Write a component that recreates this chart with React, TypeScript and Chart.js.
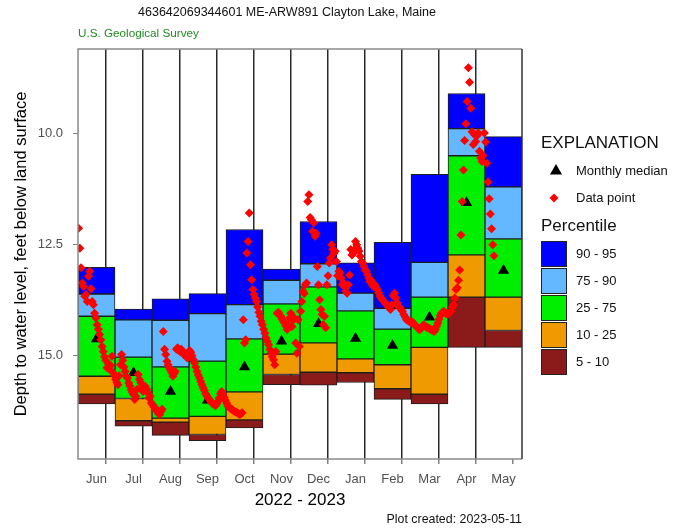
import React, { useEffect, useRef } from 'react';
import { Chart, registerables } from 'chart.js';

Chart.register(...registerables);

const FONT = '"Liberation Sans", Arial, Helvetica, sans-serif';

const TITLE = '463642069344601 ME-ARW891 Clayton Lake, Maine';
const AGENCY = 'U.S. Geological Survey';
const CREATED = 'Plot created: 2023-05-11';
const X_TITLE = '2022 - 2023';
const Y_TITLE = 'Depth to water level, feet below land surface';

const MONTHS = ['Jun', 'Jul', 'Aug', 'Sep', 'Oct', 'Nov', 'Dec', 'Jan', 'Feb', 'Mar', 'Apr', 'May'];
const DAYS_IN_MONTH = [30, 31, 31, 30, 31, 30, 31, 31, 28, 31, 30, 31];
const Y_TICKS = [10, 12.5, 15];

// Monthly percentiles of depth (ft below land surface)
const P95 = [13.01, 13.95, 13.72, 13.6, 12.16, 13.05, 11.98, 12.91, 12.45, 10.92, 9.1, 10.07];
const P90 = [13.61, 14.19, 14.2, 14.05, 13.85, 13.3, 12.93, 13.59, 13.93, 12.9, 9.89, 11.2];
const P75 = [14.11, 15.03, 15.25, 15.12, 14.62, 13.83, 13.45, 13.99, 14.4, 13.68, 10.5, 12.37];
const P25 = [15.46, 15.96, 16.4, 16.36, 15.81, 14.96, 14.71, 15.07, 15.2, 14.81, 12.73, 13.68];
const P10 = [15.86, 16.46, 16.49, 16.77, 16.44, 15.42, 15.37, 15.38, 15.74, 15.86, 13.68, 14.43];
const P5 = [16.08, 16.58, 16.79, 16.91, 16.62, 15.65, 15.66, 15.6, 15.98, 16.08, 14.81, 14.81];
const MEDIAN = [14.62, 15.38, 15.8, 16.0, 15.25, 14.67, 14.28, 14.61, 14.77, 14.13, 11.56, 13.08];

// Daily data points, one value per day starting on day 1 of each month
const JUN_2022 = [12.13, 12.58, 13.02, 13.36, 13.44, 13.66, 13.62, 13.78, 13.21, 13.1, 13.49, 13.78, 13.85, 14.04, 14.15, 14.3, 14.4, 14.52, 14.64, 14.79, 14.9, 15.02, 15.1, 15.27, 15.18, 15.3, 15.22, 15.01, 15.38, 15.45];
const JUL_2022 = [15.53, 15.6, 15.65, 15.45, 15.2, 14.97, 15.1, 15.25, 15.35, 15.46, 15.5, 15.61, 15.68, 15.76, 15.82, 15.87, 15.98, 15.91, 15.75, 15.42, 15.53, 15.6, 15.69, 15.8, 15.72, 15.69, 15.75, 15.83, 15.95, 15.91, 16.06];
const AUG_2022 = [16.1, 16.15, 16.17, 16.22, 16.25, 16.3, 16.32, 16.25, 16.2, 14.45, 14.85, 14.97, 15.12, 15.2, 15.27, 15.32, 15.38, 15.46, 15.4, 15.35, 14.85, 14.82, 14.88, 14.9, 14.85, 14.92, 14.97, 14.95, 15.0, 15.05, 15.02];
const SEP_2022 = [14.88, 14.92, 15.0, 15.08, 15.16, 15.25, 15.35, 15.43, 15.5, 15.58, 15.65, 15.72, 15.78, 15.85, 15.9, 15.95, 15.98, 16.02, 16.06, 16.08, 16.1, 16.12, 16.08, 16.02, 15.95, 15.85, 15.8, 15.86, 15.93, 16.0];
const OCT_2022 = [16.06, 16.13, 16.15, 16.18, 16.2, 16.21, 16.24, 16.25, 16.27, 16.28, 16.3, 16.32, 16.3, 16.28, 14.19, 14.71, 14.64, 12.69, 12.43, 11.79, 12.95, 13.29, 13.51, 13.62, 13.7, 13.78, 13.9, 14.02, 14.11, 14.22, 14.3];
const NOV_2022 = [14.4, 14.49, 14.6, 14.68, 14.75, 14.85, 14.94, 15.02, 15.09, 15.2, 14.9, 14.04, 14.02, 14.08, 14.11, 14.18, 14.22, 14.26, 14.33, 14.41, 14.3, 14.15, 14.04, 14.34, 14.2, 14.15, 14.71, 14.94, 14.19, 14.79];
const DEC_2022 = [14.0, 13.78, 13.55, 13.6, 13.4, 13.36, 11.53, 11.38, 11.89, 11.94, 12.2, 12.01, 12.31, 12.25, 12.99, 13.4, 13.74, 13.96, 14.07, 14.3, 14.11, 14.37, 13.4, 13.2, 12.91, 12.8, 12.5, 12.61, 12.69, 12.65, 12.88];
const JAN_2023 = [13.2, 13.1, 13.14, 13.25, 13.4, 13.36, 13.45, 13.55, 13.59, 13.4, 13.18, 12.61, 12.73, 12.7, 12.61, 12.43, 12.5, 12.58, 12.65, 12.76, 12.88, 12.91, 12.99, 13.06, 13.1, 13.17, 13.25, 13.33, 13.3, 13.4, 13.44];
const FEB_2023 = [13.4, 13.45, 13.51, 13.58, 13.66, 13.7, 13.74, 13.78, 13.81, 13.85, 13.89, 13.92, 13.96, 13.85, 13.65, 13.59, 13.7, 13.81, 13.89, 13.92, 13.96, 14.0, 14.07, 14.12, 14.19, 14.2, 14.22, 14.25];
const MAR_2023 = [14.22, 14.25, 14.28, 14.32, 14.34, 14.37, 14.4, 14.41, 14.38, 14.34, 14.3, 14.32, 14.35, 14.37, 14.37, 14.39, 14.41, 14.42, 14.43, 14.45, 14.4, 14.33, 14.26, 14.18, 14.1, 14.04, 14.02, 14.0, 14.03, 14.05, 14.07];
const APR_2023 = [14.05, 14.02, 14.0, 13.9, 13.85, 13.7, 13.51, 13.47, 13.3, 13.07, 12.28, 11.53, 10.82, 10.16, 9.78, 9.28, 8.52, 8.85, 9.43, 9.96, 10.25, 10.03, 10.18, 10.05, 9.99, 10.4, 10.55, 10.63, 10.5, 9.99];
const MAY_2023 = [10.19, 10.67, 11.09, 11.47, 11.81, 12.14, 12.5, 12.75];

const DAILY = [JUN_2022, JUL_2022, AUG_2022, SEP_2022, OCT_2022, NOV_2022, DEC_2022, JAN_2023, FEB_2023, MAR_2023, APR_2023, MAY_2023];

const BAND_LABELS = ['90 - 95', '75 - 90', '25 - 75', '10 - 25', '5 - 10'];
const BAND_COLORS = ['#0000FF', '#63B8FF', '#00EE00', '#EE9A00', '#8B1A1A'];
const BAND_LOW = [P90, P75, P25, P10, P5];
const BAND_HIGH = [P95, P90, P75, P25, P10];

function buildConfig(): any {
  const bandSets = BAND_LABELS.map((label, b) => ({
    type: 'bar',
    label,
    data: MONTHS.map((_, i) => ({ x: i + 0.5, y: [BAND_LOW[b][i], BAND_HIGH[b][i]] })),
    backgroundColor: BAND_COLORS[b],
    borderColor: '#1e1e1e',
    borderWidth: 1,
    borderSkipped: false,
    stack: 'bands',
    barThickness: 'flex',
    barPercentage: 1,
    categoryPercentage: 1,
    order: 3,
  }));

  const daily: { x: number; y: number }[] = [];
  DAILY.forEach((arr, m) => {
    arr.forEach((v, d) => {
      daily.push({ x: m + (d + 0.5) / DAYS_IN_MONTH[m], y: v });
    });
  });

  const decor = {
    id: 'decor',
    afterDraw(chart: any) {
      const { ctx, chartArea: a } = chart;
      ctx.save();
      // frame
      ctx.lineWidth = 1.5;
      ctx.strokeStyle = '#8a8a8a';
      ctx.beginPath();
      ctx.moveTo(a.right, a.top);
      ctx.lineTo(a.left, a.top);
      ctx.lineTo(a.left, a.bottom);
      ctx.lineTo(a.right, a.bottom);
      ctx.stroke();
      ctx.strokeStyle = '#333';
      ctx.beginPath();
      ctx.moveTo(a.right, a.top);
      ctx.lineTo(a.right, a.bottom);
      ctx.stroke();

      // titles
      ctx.textBaseline = 'middle';
      ctx.fillStyle = '#111';
      ctx.textAlign = 'center';
      ctx.font = `12.5px ${FONT}`;
      ctx.fillText(TITLE, 287, 13);
      ctx.fillStyle = '#228B22';
      ctx.textAlign = 'left';
      ctx.font = `11.7px ${FONT}`;
      ctx.fillText(AGENCY, 78, 34);
      ctx.fillStyle = '#111';
      ctx.textAlign = 'right';
      ctx.font = `12.4px ${FONT}`;
      ctx.fillText(CREATED, 522, 520);

      // legend
      const lx = 541;
      ctx.textAlign = 'left';
      ctx.fillStyle = '#111';
      ctx.font = `17px ${FONT}`;
      ctx.fillText('EXPLANATION', lx, 143);
      const tr = 7;
      const tcx = 556, tcy = 171;
      ctx.fillStyle = '#000';
      ctx.beginPath();
      ctx.moveTo(tcx, tcy - tr);
      ctx.lineTo(tcx + tr * 0.866, tcy + tr * 0.5);
      ctx.lineTo(tcx - tr * 0.866, tcy + tr * 0.5);
      ctx.closePath();
      ctx.fill();
      ctx.font = `13px ${FONT}`;
      ctx.fillStyle = '#111';
      ctx.fillText('Monthly median', 576, 171);
      const dr = 4.5;
      const dcx = 554, dcy = 198;
      ctx.fillStyle = '#FF0000';
      ctx.beginPath();
      ctx.moveTo(dcx, dcy - dr);
      ctx.lineTo(dcx + dr, dcy);
      ctx.lineTo(dcx, dcy + dr);
      ctx.lineTo(dcx - dr, dcy);
      ctx.closePath();
      ctx.fill();
      ctx.fillStyle = '#111';
      ctx.fillText('Data point', 576, 198);
      ctx.font = `17px ${FONT}`;
      ctx.fillText('Percentile', lx, 226);
      ctx.font = `13px ${FONT}`;
      BAND_LABELS.forEach((lab, i) => {
        const top = 241 + i * 27;
        ctx.fillStyle = BAND_COLORS[i];
        ctx.fillRect(lx, top, 25, 25);
        ctx.strokeStyle = '#222';
        ctx.lineWidth = 1;
        ctx.strokeRect(lx + 0.5, top + 0.5, 25, 25);
        ctx.fillStyle = '#111';
        ctx.fillText(lab, 576, top + 13);
      });
      ctx.restore();
    },
  };

  return {
    type: 'bar',
    data: {
      datasets: [
        {
          type: 'scatter',
          label: 'Data point',
          data: daily,
          pointStyle: 'rectRot',
          pointRadius: 4.5,
          backgroundColor: '#FF0000',
          borderColor: '#FF0000',
          borderWidth: 0,
          order: 1,
        },
        {
          type: 'scatter',
          label: 'Monthly median',
          data: MEDIAN.map((v, i) => ({ x: i + 0.5, y: v })),
          pointStyle: 'triangle',
          pointRadius: 6.5,
          backgroundColor: '#000',
          borderColor: '#000',
          borderWidth: 0,
          order: 2,
        },
        ...bandSets,
      ],
    },
    options: {
      responsive: false,
      devicePixelRatio: 1,
      animation: false,
      events: [],
      layout: { padding: { top: 49, right: 155, left: 0, bottom: 0 } },
      plugins: { legend: { display: false }, tooltip: { enabled: false }, title: { display: false } },
      scales: {
        x: {
          type: 'linear',
          min: 0,
          max: 12,
          offset: false,
          stacked: true,
          afterFit: (s: any) => { s.height = 72; },
          afterBuildTicks: (s: any) => {
            const t = [];
            for (let v = 0; v <= 24; v++) t.push({ value: v / 2 });
            s.ticks = t;
          },
          ticks: {
            autoSkip: false,
            maxRotation: 0,
            minRotation: 0,
            padding: 8,
            color: '#505050',
            font: { family: FONT, size: 13 },
            callback: (v: number) => (Number.isInteger(v) ? '' : MONTHS[Math.floor(v)]),
          },
          grid: {
            drawOnChartArea: true,
            lineWidth: 1.5,
            tickLength: 5,
            color: (c: any) => {
              const v = c.tick ? c.tick.value : undefined;
              if (v === undefined || !Number.isInteger(v) || v === 0 || v === 12) return 'rgba(0,0,0,0)';
              return '#2a2a2a';
            },
            tickColor: (c: any) => {
              const v = c.tick ? c.tick.value : undefined;
              return v !== undefined && Number.isInteger(v) ? '#808080' : 'rgba(0,0,0,0)';
            },
          },
          border: { display: false },
          title: {
            display: true,
            text: X_TITLE,
            color: '#000',
            font: { family: FONT, size: 17 },
            padding: { top: 0, bottom: 20 },
          },
        },
        y: {
          type: 'linear',
          reverse: true,
          min: 8.1,
          max: 17.32,
          stacked: false,
          afterFit: (s: any) => { s.width = 78; },
          afterBuildTicks: (s: any) => { s.ticks = Y_TICKS.map((v) => ({ value: v })); },
          ticks: {
            padding: 10,
            color: '#505050',
            font: { family: FONT, size: 13 },
            callback: (v: number) => v.toFixed(1),
          },
          grid: { drawOnChartArea: false, color: '#808080', tickLength: 5, lineWidth: 1 },
          border: { display: false },
          title: {
            display: true,
            text: Y_TITLE,
            color: '#000',
            font: { family: FONT, size: 16.5 },
            padding: { top: 12, bottom: 0 },
          },
        },
      },
    },
    plugins: [decor],
  };
}

export default function App() {
  const ref = useRef<HTMLCanvasElement>(null);
  useEffect(() => {
    const canvas = ref.current;
    if (!canvas) return;
    const chart = new Chart(canvas, buildConfig());
    return () => chart.destroy();
  }, []);
  return (
    <div style={{ position: 'fixed', left: 0, top: 0, width: 677, height: 531, background: '#fff' }}>
      <canvas ref={ref} width={677} height={531} style={{ display: 'block', width: 677, height: 531 }} />
    </div>
  );
}
